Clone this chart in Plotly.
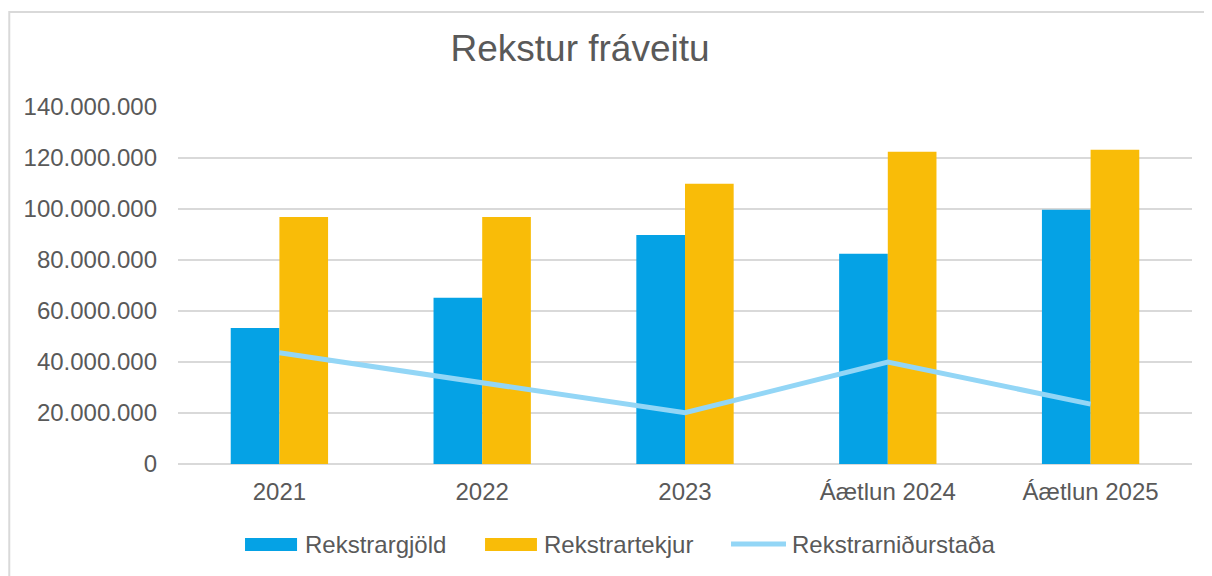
import plotly.graph_objects as go

categories = ["2021", "2022", "2023", "Áætlun 2024", "Áætlun 2025"]
rekstrargjold = [53300000, 65200000, 89800000, 82500000, 99700000]
rekstrartekjur = [96900000, 96900000, 109900000, 122500000, 123200000]
rekstrarnidurstada = [43600000, 31700000, 20100000, 40000000, 23500000]

names = ["Rekstrargjöld", "Rekstrartekjur", "Rekstrarniðurstaða"]
colors = ["#05A2E5", "#F9BC08", "#93D6F6"]

TXT = "#595959"
FONT = "Liberation Sans, Arial, sans-serif"

fig = go.Figure()
fig.add_trace(go.Bar(x=categories, y=rekstrargjold, name=names[0],
                     marker=dict(color=colors[0], line=dict(width=0))))
fig.add_trace(go.Bar(x=categories, y=rekstrartekjur, name=names[1],
                     marker=dict(color=colors[1], line=dict(width=0))))
fig.add_trace(go.Scatter(x=categories, y=rekstrarnidurstada, name=names[2],
                         mode="lines", line=dict(color=colors[2], width=5)))

# manual legend (wide swatches like the original)
ly0, ly1, lym = -0.2437, -0.2073, -0.2241
shapes = [
    dict(type="rect", xref="paper", yref="paper", x0=-0.1664, x1=1.03, y0=-0.35, y1=1.2661,
         line=dict(color="#D9D9D9", width=2), layer="below"),
    dict(type="rect", xref="paper", yref="paper", x0=0.0661, x1=0.1174, y0=ly0, y1=ly1,
         fillcolor=colors[0], line=dict(width=0)),
    dict(type="rect", xref="paper", yref="paper", x0=0.3028, x1=0.3540, y0=ly0, y1=ly1,
         fillcolor=colors[1], line=dict(width=0)),
    dict(type="line", xref="paper", yref="paper", x0=0.5454, x1=0.5996, y0=lym, y1=lym,
         line=dict(color=colors[2], width=5)),
]
annotations = [
    dict(text=names[i], xref="paper", yref="paper", x=xx, y=lym, xanchor="left", yanchor="middle",
         showarrow=False, font=dict(size=24, color=TXT, family=FONT))
    for i, xx in enumerate([0.1233, 0.3590, 0.6036])
]

fig.update_layout(
    width=1212, height=576,
    margin=dict(l=170, r=28, t=99, b=120),
    paper_bgcolor="white", plot_bgcolor="white",
    font=dict(family=FONT, color=TXT, size=24),
    separators=",.",
    barmode="group", bargap=0.52, bargroupgap=0,
    title=dict(text="Rekstur fráveitu", x=0.472, xref="container", xanchor="center",
               y=0.9306, yref="container", yanchor="middle",
               font=dict(size=37, color=TXT, family=FONT)),
    showlegend=False,
    xaxis=dict(showgrid=False, showline=False, ticks="", ticklabelstandoff=11,
               tickfont=dict(size=24, color=TXT)),
    yaxis=dict(range=[0, 140000000], dtick=20000000, tickformat=",.0f",
               showgrid=True, gridcolor="#D9D9D9", gridwidth=2,
               zeroline=True, zerolinecolor="#D9D9D9", zerolinewidth=2,
               showline=False, ticks="", ticklabelstandoff=20,
               tickfont=dict(size=24, color=TXT)),
    shapes=shapes,
    annotations=annotations,
)

fig.write_html("out.html")
